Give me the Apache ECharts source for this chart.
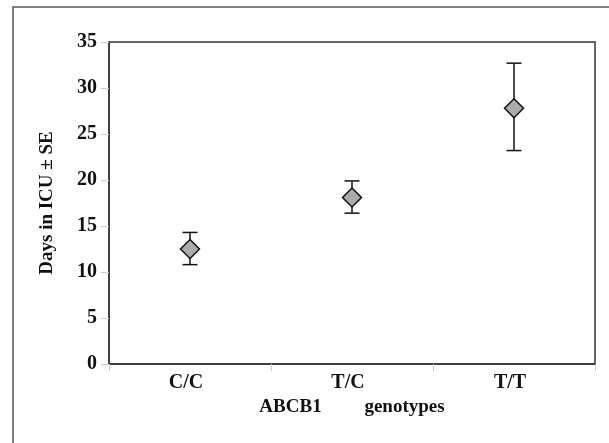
<!DOCTYPE html>
<html>
<head>
<meta charset="utf-8">
<script src="https://cdn.jsdelivr.net/npm/echarts@6/dist/echarts.min.js"></script>
<style>
  html, body { margin: 0; padding: 0; background: #fff; }
  #chart { width: 609px; height: 443px; }
</style>
</head>
<body>
<div id="chart"></div>
<script>
// genotype groups and mean days in ICU with standard error limits
const genotypes = ["C/C", "T/C", "T/T"];
const meanDays = [12.5, 18.1, 27.8];
const upperSE = [14.3, 19.9, 32.7];
const lowerSE = [10.8, 16.4, 23.2];
const yTicks = [0, 5, 10, 15, 20, 25, 30, 35];

const serif = "'Liberation Serif', 'Times New Roman', serif";

const chart = echarts.init(document.getElementById("chart"));

const errorData = genotypes.map((g, i) => [i, lowerSE[i], upperSE[i]]);

const option = {
  animation: false,
  backgroundColor: "#fff",
  grid: {
    left: 109,
    top: 42,
    right: 14,
    bottom: 79,
    show: true,
    borderColor: "#333",
    borderWidth: 1.5,
    backgroundColor: "transparent"
  },
  graphic: [
    {
      type: "rect",
      shape: { x: 13, y: 7, width: 700, height: 500 },
      style: { fill: "none", stroke: "#555", lineWidth: 1.5 },
      silent: true
    }
  ],
  xAxis: {
    type: "category",
    data: genotypes,
    boundaryGap: true,
    name: "ABCB1         genotypes",
    nameLocation: "middle",
    nameGap: 34,
    nameTextStyle: { fontFamily: serif, fontWeight: "bold", fontSize: 19, color: "#111" },
    axisLine: { lineStyle: { color: "#333", width: 1.5 } },
    axisTick: { show: true, length: 7, lineStyle: { color: "#ccc" } },
    axisLabel: {
      fontFamily: serif, fontWeight: "bold", fontSize: 20, color: "#111",
      margin: 9, padding: [0, 8, 0, 0]
    },
    splitLine: { show: false }
  },
  yAxis: {
    type: "value",
    min: yTicks[0],
    max: yTicks[yTicks.length - 1],
    interval: 5,
    name: "Days in ICU \u00b1 SE",
    nameLocation: "middle",
    nameGap: 52,
    nameTextStyle: { fontFamily: serif, fontWeight: "bold", fontSize: 19, color: "#111" },
    axisLine: { show: true, lineStyle: { color: "#333", width: 1.5 } },
    axisTick: { show: true, length: 8, lineStyle: { color: "#ccc" } },
    axisLabel: { fontFamily: serif, fontWeight: "bold", fontSize: 20, color: "#111", margin: 12 },
    splitLine: { show: false }
  },
  series: [
    {
      type: "custom",
      data: errorData,
      z: 2,
      renderItem: function (params, api) {
        const x = api.value(0);
        const lo = api.coord([x, api.value(1)]);
        const hi = api.coord([x, api.value(2)]);
        const half = 7.5;
        const style = { stroke: "#111", lineWidth: 1.5 };
        return {
          type: "group",
          children: [
            { type: "line", shape: { x1: lo[0], y1: lo[1], x2: hi[0], y2: hi[1] }, style: style },
            { type: "line", shape: { x1: hi[0] - half, y1: hi[1], x2: hi[0] + half, y2: hi[1] }, style: style },
            { type: "line", shape: { x1: lo[0] - half, y1: lo[1], x2: lo[0] + half, y2: lo[1] }, style: style }
          ]
        };
      }
    },
    {
      type: "scatter",
      data: meanDays,
      symbol: "diamond",
      symbolSize: [19, 19],
      z: 3,
      itemStyle: { color: "#ababab", borderColor: "#111", borderWidth: 1.5, opacity: 1 }
    }
  ]
};

chart.setOption(option);
</script>
</body>
</html>
